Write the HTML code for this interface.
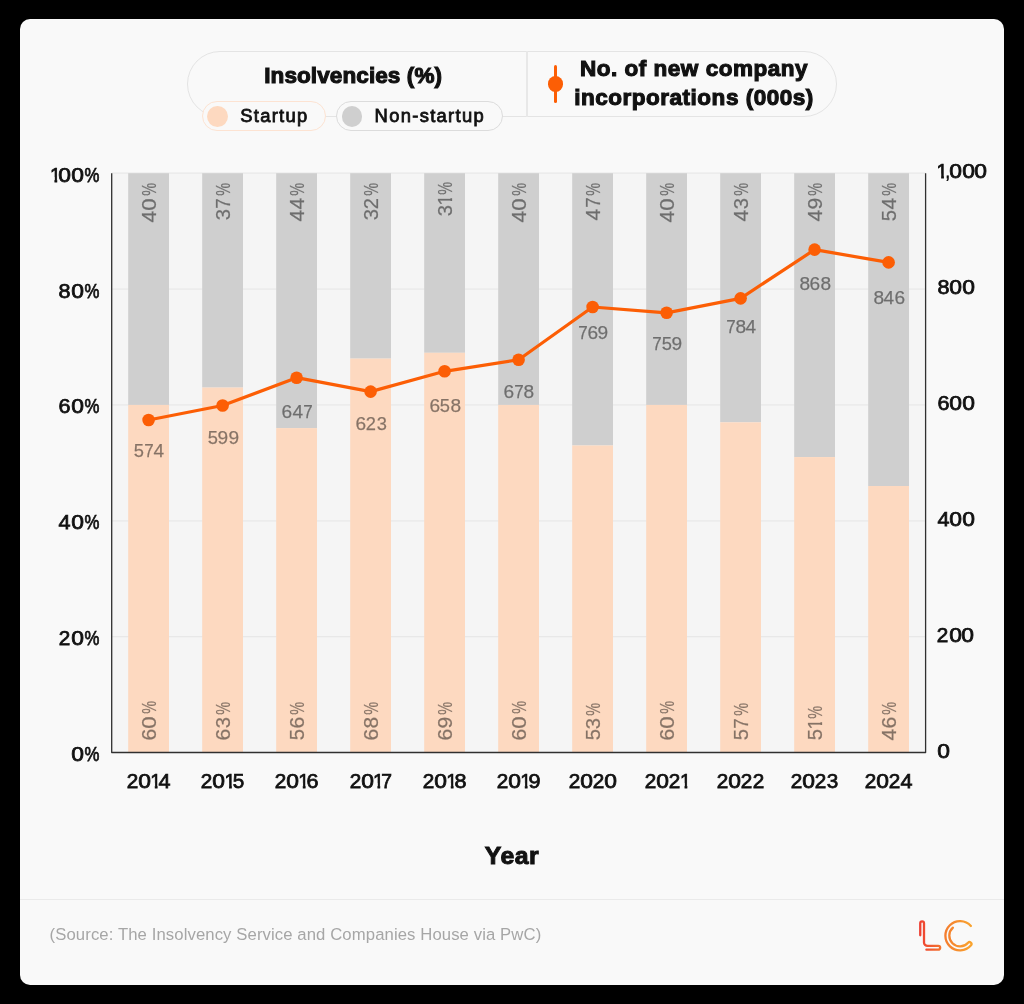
<!DOCTYPE html>
<html><head><meta charset="utf-8"><title>Insolvencies</title>
<style>
html,body{margin:0;padding:0;background:#000;}
body{width:1024px;height:1004px;position:relative;overflow:hidden;font-family:"Liberation Sans",sans-serif;color:#111111;}
.wrap{position:absolute;left:0;top:0;width:1024px;height:1004px;will-change:transform;}
.card{position:absolute;left:20px;top:19px;width:984px;height:966px;background:#f9f9f9;border-radius:10px;}
.abs{position:absolute;white-space:nowrap;line-height:1;}
.g{display:inline-block;text-align:center;}
.g>span{display:inline-block;transform-origin:50% 50%;}
.g>.one{margin-left:-0.035em;margin-right:-0.3em;clip-path:polygon(0 -1em,0.365em -1em,0.365em 2em,0.228em 2em,0.228em 0.62em,0 0.62em);}
.ax{font-weight:400;-webkit-text-stroke:0.75px #111111;}
.dl{color:#000;opacity:0.47;-webkit-text-stroke:0.25px #000;}
.pill{position:absolute;box-sizing:border-box;background:#f9f9f9;}
.h{font-weight:700;font-size:22.5px;-webkit-text-stroke:1.1px #111111;letter-spacing:0.52px;}
.sub{font-size:18.4px;-webkit-text-stroke:0.8px #111111;letter-spacing:1.3px;}
svg{position:absolute;left:0;top:0;}
</style></head><body><div class="wrap">
<div class="card"></div>

<div class="pill" style="left:187px;top:50.7px;width:650px;height:66.3px;border:1.2px solid #e4e4e4;border-radius:33px;"></div>
<div class="abs" style="left:526.1px;top:51px;width:1.5px;height:65.5px;background:#e8e8e8;"></div>
<div class="abs h" style="left:264.2px;top:64.6px;letter-spacing:0.1px;">Insolvencies (%)</div>
<div class="pill" style="left:201.5px;top:100.7px;width:124.5px;height:30.8px;border:1.2px solid #fde3d2;border-radius:16px;"></div>
<div class="abs" style="left:207.2px;top:105.9px;width:20.8px;height:20.8px;border-radius:50%;background:#fdd9c0;"></div>
<div class="abs sub" style="left:240.2px;top:106.5px;">Startup</div>
<div class="pill" style="left:336px;top:100.7px;width:167.3px;height:30.8px;border:1.2px solid #dcdcdc;border-radius:16px;"></div>
<div class="abs" style="left:341.6px;top:105.9px;width:20.8px;height:20.8px;border-radius:50%;background:#cfcfcf;"></div>
<div class="abs sub" style="left:374.6px;top:106.5px;">Non-startup</div>
<div class="abs" style="left:553.8px;top:64.6px;width:3.3px;height:38.6px;background:#fc5e05;border-radius:1.6px;"></div>
<div class="abs" style="left:547.6px;top:76px;width:15.8px;height:15.8px;border-radius:50%;background:#fc5e05;"></div>
<div class="abs h" style="left:544px;width:300px;text-align:center;top:53.5px;line-height:29.6px;white-space:normal;">No. of new company<br>incorporations (000s)</div>

<svg width="1024" height="1004" viewBox="0 0 1024 1004">
<rect x="111.7" y="173.2" width="813.9" height="579.3" fill="#f5f5f5"/>
<line x1="111.7" x2="925.6" y1="636.64" y2="636.64" stroke="#e8e8e8" stroke-width="1.3"/>
<line x1="111.7" x2="925.6" y1="520.78" y2="520.78" stroke="#e8e8e8" stroke-width="1.3"/>
<line x1="111.7" x2="925.6" y1="404.92" y2="404.92" stroke="#e8e8e8" stroke-width="1.3"/>
<line x1="111.7" x2="925.6" y1="289.06" y2="289.06" stroke="#e8e8e8" stroke-width="1.3"/>
<line x1="111.7" x2="925.6" y1="173.20" y2="173.20" stroke="#e8e8e8" stroke-width="1.3"/>
<rect x="128.20" y="173.20" width="40.8" height="231.72" fill="#cfcfcf"/>
<rect x="128.20" y="404.92" width="40.8" height="347.58" fill="#fdd9c0"/>
<rect x="202.20" y="173.20" width="40.8" height="214.34" fill="#cfcfcf"/>
<rect x="202.20" y="387.54" width="40.8" height="364.96" fill="#fdd9c0"/>
<rect x="276.20" y="173.20" width="40.8" height="254.89" fill="#cfcfcf"/>
<rect x="276.20" y="428.09" width="40.8" height="324.41" fill="#fdd9c0"/>
<rect x="350.20" y="173.20" width="40.8" height="185.38" fill="#cfcfcf"/>
<rect x="350.20" y="358.58" width="40.8" height="393.92" fill="#fdd9c0"/>
<rect x="424.20" y="173.20" width="40.8" height="179.58" fill="#cfcfcf"/>
<rect x="424.20" y="352.78" width="40.8" height="399.72" fill="#fdd9c0"/>
<rect x="498.20" y="173.20" width="40.8" height="231.72" fill="#cfcfcf"/>
<rect x="498.20" y="404.92" width="40.8" height="347.58" fill="#fdd9c0"/>
<rect x="572.20" y="173.20" width="40.8" height="272.27" fill="#cfcfcf"/>
<rect x="572.20" y="445.47" width="40.8" height="307.03" fill="#fdd9c0"/>
<rect x="646.20" y="173.20" width="40.8" height="231.72" fill="#cfcfcf"/>
<rect x="646.20" y="404.92" width="40.8" height="347.58" fill="#fdd9c0"/>
<rect x="720.20" y="173.20" width="40.8" height="249.10" fill="#cfcfcf"/>
<rect x="720.20" y="422.30" width="40.8" height="330.20" fill="#fdd9c0"/>
<rect x="794.20" y="173.20" width="40.8" height="283.86" fill="#cfcfcf"/>
<rect x="794.20" y="457.06" width="40.8" height="295.44" fill="#fdd9c0"/>
<rect x="868.20" y="173.20" width="40.8" height="312.82" fill="#cfcfcf"/>
<rect x="868.20" y="486.02" width="40.8" height="266.48" fill="#fdd9c0"/>
<path d="M111.7 173.2 V752.5 H925.6 V173.2" fill="none" stroke="#303030" stroke-width="1.3" stroke-linejoin="round"/>
<polyline points="148.60,419.98 222.60,405.50 296.60,377.69 370.60,391.60 444.60,371.32 518.60,359.73 592.60,307.02 666.60,312.81 740.60,298.33 814.60,249.67 888.60,262.41" fill="none" stroke="#fc5e05" stroke-width="3.2" stroke-linejoin="round"/>
<circle cx="148.60" cy="419.98" r="6.3" fill="#fc5e05"/>
<circle cx="222.60" cy="405.50" r="6.3" fill="#fc5e05"/>
<circle cx="296.60" cy="377.69" r="6.3" fill="#fc5e05"/>
<circle cx="370.60" cy="391.60" r="6.3" fill="#fc5e05"/>
<circle cx="444.60" cy="371.32" r="6.3" fill="#fc5e05"/>
<circle cx="518.60" cy="359.73" r="6.3" fill="#fc5e05"/>
<circle cx="592.60" cy="307.02" r="6.3" fill="#fc5e05"/>
<circle cx="666.60" cy="312.81" r="6.3" fill="#fc5e05"/>
<circle cx="740.60" cy="298.33" r="6.3" fill="#fc5e05"/>
<circle cx="814.60" cy="249.67" r="6.3" fill="#fc5e05"/>
<circle cx="888.60" cy="262.41" r="6.3" fill="#fc5e05"/>
</svg>
<div class="abs dl" style="left:139.95px;top:221.95px;font-size:19.5px;transform-origin:0 0;transform:rotate(-90deg);"><span class="g" style="width:11.70px"><span style="transform:scaleX(1.079)">4</span></span><span class="g" style="width:12.38px"><span style="transform:scaleX(1.142)">0</span></span><span class="g" style="width:12.87px"><span style="transform:scaleX(0.742)">%</span></span></div>
<div class="abs dl" style="left:139.95px;top:739.80px;font-size:19.5px;transform-origin:0 0;transform:rotate(-90deg);"><span class="g" style="width:11.70px"><span style="transform:scaleX(1.079)">6</span></span><span class="g" style="width:12.38px"><span style="transform:scaleX(1.142)">0</span></span><span class="g" style="width:12.87px"><span style="transform:scaleX(0.742)">%</span></span></div>
<div class="abs dl" style="left:213.95px;top:219.51px;font-size:19.5px;transform-origin:0 0;transform:rotate(-90deg);"><span class="g" style="width:11.21px"><span style="transform:scaleX(1.034)">3</span></span><span class="g" style="width:10.43px"><span style="transform:scaleX(0.962)">7</span></span><span class="g" style="width:12.87px"><span style="transform:scaleX(0.742)">%</span></span></div>
<div class="abs dl" style="left:213.95px;top:739.80px;font-size:19.5px;transform-origin:0 0;transform:rotate(-90deg);"><span class="g" style="width:11.70px"><span style="transform:scaleX(1.079)">6</span></span><span class="g" style="width:11.21px"><span style="transform:scaleX(1.034)">3</span></span><span class="g" style="width:12.87px"><span style="transform:scaleX(0.742)">%</span></span></div>
<div class="abs dl" style="left:287.95px;top:221.27px;font-size:19.5px;transform-origin:0 0;transform:rotate(-90deg);"><span class="g" style="width:11.70px"><span style="transform:scaleX(1.079)">4</span></span><span class="g" style="width:11.70px"><span style="transform:scaleX(1.079)">4</span></span><span class="g" style="width:12.87px"><span style="transform:scaleX(0.742)">%</span></span></div>
<div class="abs dl" style="left:287.95px;top:739.80px;font-size:19.5px;transform-origin:0 0;transform:rotate(-90deg);"><span class="g" style="width:11.21px"><span style="transform:scaleX(1.034)">5</span></span><span class="g" style="width:11.70px"><span style="transform:scaleX(1.079)">6</span></span><span class="g" style="width:12.87px"><span style="transform:scaleX(0.742)">%</span></span></div>
<div class="abs dl" style="left:361.95px;top:220.30px;font-size:19.5px;transform-origin:0 0;transform:rotate(-90deg);"><span class="g" style="width:11.21px"><span style="transform:scaleX(1.034)">3</span></span><span class="g" style="width:11.21px"><span style="transform:scaleX(1.034)">2</span></span><span class="g" style="width:12.87px"><span style="transform:scaleX(0.742)">%</span></span></div>
<div class="abs dl" style="left:361.95px;top:739.80px;font-size:19.5px;transform-origin:0 0;transform:rotate(-90deg);"><span class="g" style="width:11.70px"><span style="transform:scaleX(1.079)">6</span></span><span class="g" style="width:11.70px"><span style="transform:scaleX(1.079)">8</span></span><span class="g" style="width:12.87px"><span style="transform:scaleX(0.742)">%</span></span></div>
<div class="abs dl" style="left:435.95px;top:216.40px;font-size:19.5px;transform-origin:0 0;transform:rotate(-90deg);"><span class="g" style="width:11.21px"><span style="transform:scaleX(1.034)">3</span></span><span class="g" style="width:7.31px;text-align:left"><span class="one">1</span></span><span class="g" style="width:12.87px"><span style="transform:scaleX(0.742)">%</span></span></div>
<div class="abs dl" style="left:435.95px;top:739.80px;font-size:19.5px;transform-origin:0 0;transform:rotate(-90deg);"><span class="g" style="width:11.70px"><span style="transform:scaleX(1.079)">6</span></span><span class="g" style="width:11.70px"><span style="transform:scaleX(1.079)">9</span></span><span class="g" style="width:12.87px"><span style="transform:scaleX(0.742)">%</span></span></div>
<div class="abs dl" style="left:509.95px;top:221.95px;font-size:19.5px;transform-origin:0 0;transform:rotate(-90deg);"><span class="g" style="width:11.70px"><span style="transform:scaleX(1.079)">4</span></span><span class="g" style="width:12.38px"><span style="transform:scaleX(1.142)">0</span></span><span class="g" style="width:12.87px"><span style="transform:scaleX(0.742)">%</span></span></div>
<div class="abs dl" style="left:509.95px;top:739.80px;font-size:19.5px;transform-origin:0 0;transform:rotate(-90deg);"><span class="g" style="width:11.70px"><span style="transform:scaleX(1.079)">6</span></span><span class="g" style="width:12.38px"><span style="transform:scaleX(1.142)">0</span></span><span class="g" style="width:12.87px"><span style="transform:scaleX(0.742)">%</span></span></div>
<div class="abs dl" style="left:583.95px;top:220.00px;font-size:19.5px;transform-origin:0 0;transform:rotate(-90deg);"><span class="g" style="width:11.70px"><span style="transform:scaleX(1.079)">4</span></span><span class="g" style="width:10.43px"><span style="transform:scaleX(0.962)">7</span></span><span class="g" style="width:12.87px"><span style="transform:scaleX(0.742)">%</span></span></div>
<div class="abs dl" style="left:583.95px;top:739.80px;font-size:19.5px;transform-origin:0 0;transform:rotate(-90deg);"><span class="g" style="width:11.21px"><span style="transform:scaleX(1.034)">5</span></span><span class="g" style="width:11.21px"><span style="transform:scaleX(1.034)">3</span></span><span class="g" style="width:12.87px"><span style="transform:scaleX(0.742)">%</span></span></div>
<div class="abs dl" style="left:657.95px;top:221.95px;font-size:19.5px;transform-origin:0 0;transform:rotate(-90deg);"><span class="g" style="width:11.70px"><span style="transform:scaleX(1.079)">4</span></span><span class="g" style="width:12.38px"><span style="transform:scaleX(1.142)">0</span></span><span class="g" style="width:12.87px"><span style="transform:scaleX(0.742)">%</span></span></div>
<div class="abs dl" style="left:657.95px;top:739.80px;font-size:19.5px;transform-origin:0 0;transform:rotate(-90deg);"><span class="g" style="width:11.70px"><span style="transform:scaleX(1.079)">6</span></span><span class="g" style="width:12.38px"><span style="transform:scaleX(1.142)">0</span></span><span class="g" style="width:12.87px"><span style="transform:scaleX(0.742)">%</span></span></div>
<div class="abs dl" style="left:731.95px;top:220.78px;font-size:19.5px;transform-origin:0 0;transform:rotate(-90deg);"><span class="g" style="width:11.70px"><span style="transform:scaleX(1.079)">4</span></span><span class="g" style="width:11.21px"><span style="transform:scaleX(1.034)">3</span></span><span class="g" style="width:12.87px"><span style="transform:scaleX(0.742)">%</span></span></div>
<div class="abs dl" style="left:731.95px;top:739.80px;font-size:19.5px;transform-origin:0 0;transform:rotate(-90deg);"><span class="g" style="width:11.21px"><span style="transform:scaleX(1.034)">5</span></span><span class="g" style="width:10.43px"><span style="transform:scaleX(0.962)">7</span></span><span class="g" style="width:12.87px"><span style="transform:scaleX(0.742)">%</span></span></div>
<div class="abs dl" style="left:805.95px;top:221.27px;font-size:19.5px;transform-origin:0 0;transform:rotate(-90deg);"><span class="g" style="width:11.70px"><span style="transform:scaleX(1.079)">4</span></span><span class="g" style="width:11.70px"><span style="transform:scaleX(1.079)">9</span></span><span class="g" style="width:12.87px"><span style="transform:scaleX(0.742)">%</span></span></div>
<div class="abs dl" style="left:805.95px;top:739.80px;font-size:19.5px;transform-origin:0 0;transform:rotate(-90deg);"><span class="g" style="width:11.21px"><span style="transform:scaleX(1.034)">5</span></span><span class="g" style="width:7.31px;text-align:left"><span class="one">1</span></span><span class="g" style="width:12.87px"><span style="transform:scaleX(0.742)">%</span></span></div>
<div class="abs dl" style="left:879.95px;top:220.78px;font-size:19.5px;transform-origin:0 0;transform:rotate(-90deg);"><span class="g" style="width:11.21px"><span style="transform:scaleX(1.034)">5</span></span><span class="g" style="width:11.70px"><span style="transform:scaleX(1.079)">4</span></span><span class="g" style="width:12.87px"><span style="transform:scaleX(0.742)">%</span></span></div>
<div class="abs dl" style="left:879.95px;top:739.80px;font-size:19.5px;transform-origin:0 0;transform:rotate(-90deg);"><span class="g" style="width:11.70px"><span style="transform:scaleX(1.079)">4</span></span><span class="g" style="width:11.70px"><span style="transform:scaleX(1.079)">6</span></span><span class="g" style="width:12.87px"><span style="transform:scaleX(0.742)">%</span></span></div>
<div class="abs dl" style="left:133.97px;top:442.82px;font-size:17.7px;"><span class="g" style="width:10.18px"><span style="transform:scaleX(1.034)">5</span></span><span class="g" style="width:9.47px"><span style="transform:scaleX(0.962)">7</span></span><span class="g" style="width:10.62px"><span style="transform:scaleX(1.079)">4</span></span></div>
<div class="abs dl" style="left:207.39px;top:429.52px;font-size:17.7px;"><span class="g" style="width:10.18px"><span style="transform:scaleX(1.034)">5</span></span><span class="g" style="width:10.62px"><span style="transform:scaleX(1.079)">9</span></span><span class="g" style="width:10.62px"><span style="transform:scaleX(1.079)">9</span></span></div>
<div class="abs dl" style="left:281.75px;top:404.32px;font-size:17.7px;"><span class="g" style="width:10.62px"><span style="transform:scaleX(1.079)">6</span></span><span class="g" style="width:10.62px"><span style="transform:scaleX(1.079)">4</span></span><span class="g" style="width:9.47px"><span style="transform:scaleX(0.962)">7</span></span></div>
<div class="abs dl" style="left:355.61px;top:415.52px;font-size:17.7px;"><span class="g" style="width:10.62px"><span style="transform:scaleX(1.079)">6</span></span><span class="g" style="width:10.18px"><span style="transform:scaleX(1.034)">2</span></span><span class="g" style="width:10.18px"><span style="transform:scaleX(1.034)">3</span></span></div>
<div class="abs dl" style="left:429.39px;top:397.92px;font-size:17.7px;"><span class="g" style="width:10.62px"><span style="transform:scaleX(1.079)">6</span></span><span class="g" style="width:10.18px"><span style="transform:scaleX(1.034)">5</span></span><span class="g" style="width:10.62px"><span style="transform:scaleX(1.079)">8</span></span></div>
<div class="abs dl" style="left:503.75px;top:384.32px;font-size:17.7px;"><span class="g" style="width:10.62px"><span style="transform:scaleX(1.079)">6</span></span><span class="g" style="width:9.47px"><span style="transform:scaleX(0.962)">7</span></span><span class="g" style="width:10.62px"><span style="transform:scaleX(1.079)">8</span></span></div>
<div class="abs dl" style="left:577.75px;top:325.42px;font-size:17.7px;"><span class="g" style="width:9.47px"><span style="transform:scaleX(0.962)">7</span></span><span class="g" style="width:10.62px"><span style="transform:scaleX(1.079)">6</span></span><span class="g" style="width:10.62px"><span style="transform:scaleX(1.079)">9</span></span></div>
<div class="abs dl" style="left:651.97px;top:335.92px;font-size:17.7px;"><span class="g" style="width:9.47px"><span style="transform:scaleX(0.962)">7</span></span><span class="g" style="width:10.18px"><span style="transform:scaleX(1.034)">5</span></span><span class="g" style="width:10.62px"><span style="transform:scaleX(1.079)">9</span></span></div>
<div class="abs dl" style="left:725.75px;top:319.32px;font-size:17.7px;"><span class="g" style="width:9.47px"><span style="transform:scaleX(0.962)">7</span></span><span class="g" style="width:10.62px"><span style="transform:scaleX(1.079)">8</span></span><span class="g" style="width:10.62px"><span style="transform:scaleX(1.079)">4</span></span></div>
<div class="abs dl" style="left:799.17px;top:275.52px;font-size:17.7px;"><span class="g" style="width:10.62px"><span style="transform:scaleX(1.079)">8</span></span><span class="g" style="width:10.62px"><span style="transform:scaleX(1.079)">6</span></span><span class="g" style="width:10.62px"><span style="transform:scaleX(1.079)">8</span></span></div>
<div class="abs dl" style="left:873.17px;top:290.12px;font-size:17.7px;"><span class="g" style="width:10.62px"><span style="transform:scaleX(1.079)">8</span></span><span class="g" style="width:10.62px"><span style="transform:scaleX(1.079)">4</span></span><span class="g" style="width:10.62px"><span style="transform:scaleX(1.079)">6</span></span></div>
<div class="abs ax" style="left:70.80px;top:743.9px;font-size:20px;"><span class="g" style="width:12.70px"><span style="transform:scaleX(1.142)">0</span></span><span class="g" style="width:14.90px"><span style="transform:scaleX(0.838)">%</span></span></div>
<div class="abs ax" style="left:59.30px;top:628.0px;font-size:20px;"><span class="g" style="width:11.50px"><span style="transform:scaleX(1.034)">2</span></span><span class="g" style="width:12.70px"><span style="transform:scaleX(1.142)">0</span></span><span class="g" style="width:14.90px"><span style="transform:scaleX(0.838)">%</span></span></div>
<div class="abs ax" style="left:58.80px;top:512.2px;font-size:20px;"><span class="g" style="width:12.00px"><span style="transform:scaleX(1.079)">4</span></span><span class="g" style="width:12.70px"><span style="transform:scaleX(1.142)">0</span></span><span class="g" style="width:14.90px"><span style="transform:scaleX(0.838)">%</span></span></div>
<div class="abs ax" style="left:58.80px;top:396.3px;font-size:20px;"><span class="g" style="width:12.00px"><span style="transform:scaleX(1.079)">6</span></span><span class="g" style="width:12.70px"><span style="transform:scaleX(1.142)">0</span></span><span class="g" style="width:14.90px"><span style="transform:scaleX(0.838)">%</span></span></div>
<div class="abs ax" style="left:58.80px;top:280.5px;font-size:20px;"><span class="g" style="width:12.00px"><span style="transform:scaleX(1.079)">8</span></span><span class="g" style="width:12.70px"><span style="transform:scaleX(1.142)">0</span></span><span class="g" style="width:14.90px"><span style="transform:scaleX(0.838)">%</span></span></div>
<div class="abs ax" style="left:50.60px;top:164.6px;font-size:20px;"><span class="g" style="width:7.50px;text-align:left"><span class="one">1</span></span><span class="g" style="width:12.70px"><span style="transform:scaleX(1.142)">0</span></span><span class="g" style="width:12.70px"><span style="transform:scaleX(1.142)">0</span></span><span class="g" style="width:14.90px"><span style="transform:scaleX(0.838)">%</span></span></div>
<div class="abs ax" style="left:937.3px;top:740.5px;font-size:20px;"><span class="g" style="width:12.70px"><span style="transform:scaleX(1.142)">0</span></span></div>
<div class="abs ax" style="left:937.3px;top:624.6px;font-size:20px;"><span class="g" style="width:11.50px"><span style="transform:scaleX(1.034)">2</span></span><span class="g" style="width:12.70px"><span style="transform:scaleX(1.142)">0</span></span><span class="g" style="width:12.70px"><span style="transform:scaleX(1.142)">0</span></span></div>
<div class="abs ax" style="left:937.3px;top:508.8px;font-size:20px;"><span class="g" style="width:12.00px"><span style="transform:scaleX(1.079)">4</span></span><span class="g" style="width:12.70px"><span style="transform:scaleX(1.142)">0</span></span><span class="g" style="width:12.70px"><span style="transform:scaleX(1.142)">0</span></span></div>
<div class="abs ax" style="left:937.3px;top:392.9px;font-size:20px;"><span class="g" style="width:12.00px"><span style="transform:scaleX(1.079)">6</span></span><span class="g" style="width:12.70px"><span style="transform:scaleX(1.142)">0</span></span><span class="g" style="width:12.70px"><span style="transform:scaleX(1.142)">0</span></span></div>
<div class="abs ax" style="left:937.3px;top:277.1px;font-size:20px;"><span class="g" style="width:12.00px"><span style="transform:scaleX(1.079)">8</span></span><span class="g" style="width:12.70px"><span style="transform:scaleX(1.142)">0</span></span><span class="g" style="width:12.70px"><span style="transform:scaleX(1.142)">0</span></span></div>
<div class="abs ax" style="left:937.3px;top:161.2px;font-size:20px;"><span class="g" style="width:7.50px;text-align:left"><span class="one">1</span></span><span class="g" style="width:4.40px"><span style="transform:scaleX(0.791)">,</span></span><span class="g" style="width:12.70px"><span style="transform:scaleX(1.142)">0</span></span><span class="g" style="width:12.70px"><span style="transform:scaleX(1.142)">0</span></span><span class="g" style="width:12.70px"><span style="transform:scaleX(1.142)">0</span></span></div>
<div class="abs ax" style="left:126.75px;top:770.5px;font-size:20px;"><span class="g" style="width:11.50px"><span style="transform:scaleX(1.034)">2</span></span><span class="g" style="width:12.70px"><span style="transform:scaleX(1.142)">0</span></span><span class="g" style="width:7.50px;text-align:left"><span class="one">1</span></span><span class="g" style="width:12.00px"><span style="transform:scaleX(1.079)">4</span></span></div>
<div class="abs ax" style="left:201.00px;top:770.5px;font-size:20px;"><span class="g" style="width:11.50px"><span style="transform:scaleX(1.034)">2</span></span><span class="g" style="width:12.70px"><span style="transform:scaleX(1.142)">0</span></span><span class="g" style="width:7.50px;text-align:left"><span class="one">1</span></span><span class="g" style="width:11.50px"><span style="transform:scaleX(1.034)">5</span></span></div>
<div class="abs ax" style="left:274.75px;top:770.5px;font-size:20px;"><span class="g" style="width:11.50px"><span style="transform:scaleX(1.034)">2</span></span><span class="g" style="width:12.70px"><span style="transform:scaleX(1.142)">0</span></span><span class="g" style="width:7.50px;text-align:left"><span class="one">1</span></span><span class="g" style="width:12.00px"><span style="transform:scaleX(1.079)">6</span></span></div>
<div class="abs ax" style="left:349.40px;top:770.5px;font-size:20px;"><span class="g" style="width:11.50px"><span style="transform:scaleX(1.034)">2</span></span><span class="g" style="width:12.70px"><span style="transform:scaleX(1.142)">0</span></span><span class="g" style="width:7.50px;text-align:left"><span class="one">1</span></span><span class="g" style="width:10.70px"><span style="transform:scaleX(0.962)">7</span></span></div>
<div class="abs ax" style="left:422.75px;top:770.5px;font-size:20px;"><span class="g" style="width:11.50px"><span style="transform:scaleX(1.034)">2</span></span><span class="g" style="width:12.70px"><span style="transform:scaleX(1.142)">0</span></span><span class="g" style="width:7.50px;text-align:left"><span class="one">1</span></span><span class="g" style="width:12.00px"><span style="transform:scaleX(1.079)">8</span></span></div>
<div class="abs ax" style="left:496.75px;top:770.5px;font-size:20px;"><span class="g" style="width:11.50px"><span style="transform:scaleX(1.034)">2</span></span><span class="g" style="width:12.70px"><span style="transform:scaleX(1.142)">0</span></span><span class="g" style="width:7.50px;text-align:left"><span class="one">1</span></span><span class="g" style="width:12.00px"><span style="transform:scaleX(1.079)">9</span></span></div>
<div class="abs ax" style="left:568.40px;top:770.5px;font-size:20px;"><span class="g" style="width:11.50px"><span style="transform:scaleX(1.034)">2</span></span><span class="g" style="width:12.70px"><span style="transform:scaleX(1.142)">0</span></span><span class="g" style="width:11.50px"><span style="transform:scaleX(1.034)">2</span></span><span class="g" style="width:12.70px"><span style="transform:scaleX(1.142)">0</span></span></div>
<div class="abs ax" style="left:645.00px;top:770.5px;font-size:20px;"><span class="g" style="width:11.50px"><span style="transform:scaleX(1.034)">2</span></span><span class="g" style="width:12.70px"><span style="transform:scaleX(1.142)">0</span></span><span class="g" style="width:11.50px"><span style="transform:scaleX(1.034)">2</span></span><span class="g" style="width:7.50px;text-align:left"><span class="one">1</span></span></div>
<div class="abs ax" style="left:717.00px;top:770.5px;font-size:20px;"><span class="g" style="width:11.50px"><span style="transform:scaleX(1.034)">2</span></span><span class="g" style="width:12.70px"><span style="transform:scaleX(1.142)">0</span></span><span class="g" style="width:11.50px"><span style="transform:scaleX(1.034)">2</span></span><span class="g" style="width:11.50px"><span style="transform:scaleX(1.034)">2</span></span></div>
<div class="abs ax" style="left:791.00px;top:770.5px;font-size:20px;"><span class="g" style="width:11.50px"><span style="transform:scaleX(1.034)">2</span></span><span class="g" style="width:12.70px"><span style="transform:scaleX(1.142)">0</span></span><span class="g" style="width:11.50px"><span style="transform:scaleX(1.034)">2</span></span><span class="g" style="width:11.50px"><span style="transform:scaleX(1.034)">3</span></span></div>
<div class="abs ax" style="left:864.75px;top:770.5px;font-size:20px;"><span class="g" style="width:11.50px"><span style="transform:scaleX(1.034)">2</span></span><span class="g" style="width:12.70px"><span style="transform:scaleX(1.142)">0</span></span><span class="g" style="width:11.50px"><span style="transform:scaleX(1.034)">2</span></span><span class="g" style="width:12.00px"><span style="transform:scaleX(1.079)">4</span></span></div>
<div class="abs" style="left:412px;width:200px;text-align:center;top:843.8px;font-size:24.8px;font-weight:700;-webkit-text-stroke:1.0px #111;letter-spacing:0.55px;">Year</div>
<div class="abs" style="left:20px;top:898.7px;width:984px;height:1.5px;background:#eaeaea;"></div>
<div class="abs" style="left:49.6px;top:927.0px;font-size:16.7px;letter-spacing:0.1px;color:#a6a6a6;">(Source: The Insolvency Service and Companies House via PwC)</div>

<svg width="1024" height="1004" viewBox="0 0 1024 1004">
<defs><linearGradient id="lg" gradientUnits="userSpaceOnUse" x1="919" y1="935" x2="973" y2="935">
<stop offset="0" stop-color="#ee3e33"/><stop offset="0.45" stop-color="#f47a2e"/><stop offset="1" stop-color="#f9a62f"/></linearGradient></defs>
<path d="M920.25 935.3 V923.3 a1.88 1.88 0 0 1 3.76 0 V942.4 a3.5 3.5 0 0 0 3.5 3.5 H938.3 a1.88 1.88 0 0 1 0 3.76 H926.4" fill="none" stroke="url(#lg)" stroke-width="2.3" stroke-linecap="round" stroke-linejoin="round"/>
<path d="M952.94 927.66 A10.7 10.7 0 1 0 968.08 942.72 A1.95 1.95 0 0 1 971.02 945.28 A14.6 14.6 0 1 1 970.92 926.01" fill="none" stroke="url(#lg)" stroke-width="2.3" stroke-linecap="round" stroke-linejoin="round"/>
</svg>

</div></body></html>
